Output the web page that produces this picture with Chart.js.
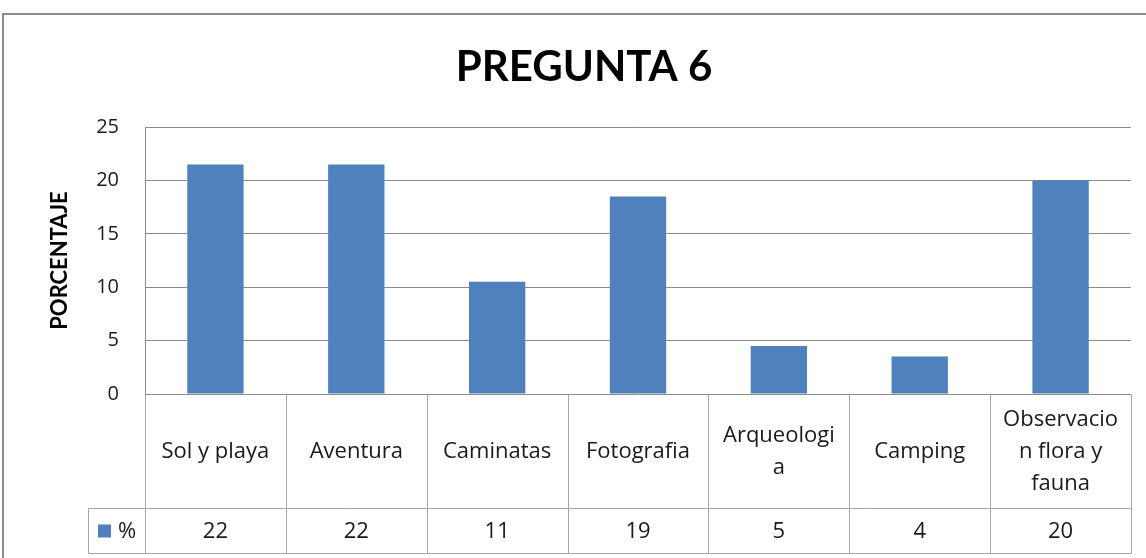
<!DOCTYPE html>
<html>
<head>
<meta charset="utf-8">
<script src="https://cdn.jsdelivr.net/npm/chart.js@4/dist/chart.umd.min.js"></script>
<style>
  html, body { margin: 0; padding: 0; background: #fff; }
  #wrap { position: relative; width: 1146px; height: 558px; }
</style>
</head>
<body>
<div id="wrap"><canvas id="c"></canvas></div>
<script>
// ---- Data ----
const chartTitle = 'PREGUNTA 6';
const yAxisTitle = 'PORCENTAJE';
const seriesName = '%';
const categories = [
  ['Sol y playa'],
  ['Aventura'],
  ['Caminatas'],
  ['Fotografia'],
  ['Arqueologi', 'a'],
  ['Camping'],
  ['Observacio', 'n flora y', 'fauna']
];
const values = [21.5, 21.5, 10.5, 18.5, 4.5, 3.5, 20];
const tableLabels = ['22', '22', '11', '19', '5', '4', '20'];
const yTicks = [0, 5, 10, 15, 20, 25];

// ---- Styles ----
const FONT = '"Open Sans", Lato, "DejaVu Sans", sans-serif';
const TITLE_FONT = 'Lato, "Open Sans", sans-serif';
const BAR = '#4F81BD';
const GRID = '#8c8c8c';
const TABLE_LINE = '#a6a6a6';
const TEXT = '#1a1a1a';

const tablePlugin = {
  id: 'dataTable',
  beforeDraw(chart) {
    const ctx = chart.ctx;
    ctx.save();
    ctx.strokeStyle = '#8a8a8a';
    ctx.lineWidth = 2;
    ctx.strokeRect(3, 14, 1200, 600);
    // chart title
    ctx.fillStyle = '#000';
    ctx.font = 'bold 42px ' + TITLE_FONT;
    ctx.textAlign = 'center';
    ctx.textBaseline = 'middle';
    ctx.fillText(chartTitle, 584, 67);
    ctx.restore();
  },
  afterDraw(chart) {
    const ctx = chart.ctx;
    const x = chart.scales.x;
    const area = chart.chartArea;
    const step = x.getPixelForValue(1) - x.getPixelForValue(0);
    const y0 = area.bottom;
    const yRow = y0 + 114;
    const yEnd = yRow + 45;
    const legendLeft = 88;
    ctx.save();
    ctx.strokeStyle = TABLE_LINE;
    ctx.lineWidth = 1;
    const line = (x1, y1, x2, y2) => {
      ctx.beginPath();
      ctx.moveTo(Math.round(x1) + 0.5, Math.round(y1) + 0.5);
      ctx.lineTo(Math.round(x2) + 0.5, Math.round(y2) + 0.5);
      ctx.stroke();
    };
    line(legendLeft, yRow, area.right, yRow);
    line(legendLeft, yEnd, area.right, yEnd);
    line(legendLeft, yRow, legendLeft, yEnd);
    for (let i = 0; i <= categories.length; i++) {
      const bx = x.getPixelForValue(0) - step / 2 + i * step;
      line(bx, y0, bx, yEnd);
    }
    ctx.fillStyle = TEXT;
    ctx.textAlign = 'center';
    ctx.textBaseline = 'middle';
    ctx.font = '22px ' + FONT;
    const lh = 32;
    categories.forEach((lines, i) => {
      const cx = x.getPixelForValue(i);
      const cy = (y0 + yRow) / 2 + 1;
      const startY = cy - (lines.length - 1) * lh / 2;
      lines.forEach((t, j) => ctx.fillText(t, cx, startY + j * lh));
      ctx.fillText(tableLabels[i], cx, (yRow + yEnd) / 2 + 1);
    });
    ctx.fillStyle = BAR;
    ctx.fillRect(98, (yRow + yEnd) / 2 - 6, 13, 13);
    ctx.fillStyle = TEXT;
    ctx.textAlign = 'left';
    ctx.fillText(seriesName, 118, (yRow + yEnd) / 2 + 1);
    ctx.restore();
  }
};

new Chart(document.getElementById('c'), {
  type: 'bar',
  data: {
    labels: categories,
    datasets: [{
      label: seriesName,
      data: values,
      backgroundColor: BAR,
      borderWidth: 0,
      barPercentage: 0.4,
      categoryPercentage: 1.0
    }]
  },
  options: {
    responsive: true,
    maintainAspectRatio: false,
    animation: false,
    events: [],
    layout: { padding: { left: 0, right: 15, top: 127, bottom: 164 } },
    plugins: {
      legend: { display: false },
      tooltip: { enabled: false },
      title: { display: false }
    },
    scales: {
      x: { display: false },
      y: {
        min: 0,
        max: 25,
        afterBuildTicks(scale) { scale.ticks = yTicks.map(v => ({ value: v })); },
        afterFit(scale) { scale.width = 145; },
        ticks: {
          color: TEXT,
          font: { family: FONT, size: 20 },
          padding: 26
        },
        grid: { color: GRID, drawTicks: false, lineWidth: 1 },
        border: { display: true, color: GRID, width: 1 },
        title: {
          display: true,
          text: yAxisTitle,
          color: '#000',
          font: { family: TITLE_FONT, size: 22, weight: 'bold', lineHeight: 1.2 },
          padding: { top: 47, bottom: 0 }
        }
      }
    }
  },
  plugins: [tablePlugin]
});
</script>
</body>
</html>
